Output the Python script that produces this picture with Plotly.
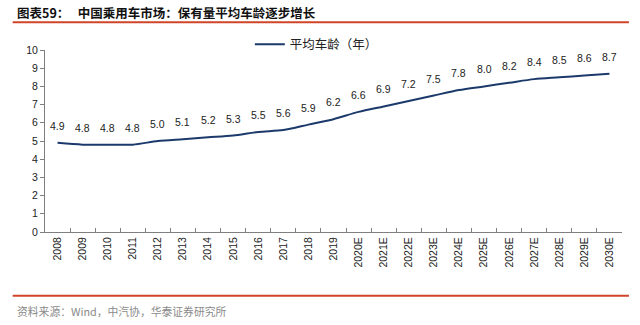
import plotly.graph_objects as go

# Passenger-car fleet: average vehicle age by year (E = estimate)
years = ["2008", "2009", "2010", "2011", "2012", "2013", "2014", "2015", "2016",
         "2017", "2018", "2019", "2020E", "2021E", "2022E", "2023E", "2024E",
         "2025E", "2026E", "2027E", "2028E", "2029E", "2030E"]
avg_age = [4.9, 4.8, 4.8, 4.8, 5.0, 5.1, 5.2, 5.3, 5.5, 5.6, 5.9, 6.2,
           6.6, 6.9, 7.2, 7.5, 7.8, 8.0, 8.2, 8.4, 8.5, 8.6, 8.7]
y_ticks = [0, 1, 2, 3, 4, 5, 6, 7, 8, 9, 10]

series_name = "平均车龄（年）"
title_text = "图表59：   中国乘用车市场：保有量平均车龄逐步增长"
source_text = "资料来源：Wind，中汽协，华泰证券研究所"

LINE_COLOR = "#1b3a6b"
RED = "#d0452a"
NUM_FONT = "Liberation Sans, Arial, sans-serif"
CJK_FONT = "Noto Sans CJK SC, sans-serif"

fig = go.Figure()
fig.add_trace(go.Scatter(
    x=years, y=avg_age, mode="lines", name=series_name,
    line=dict(color=LINE_COLOR, width=2, shape="spline", smoothing=0.8),
    hoverinfo="x+y",
))

# value labels above each point (category axis: position by category index)
for i, v in enumerate(avg_age):
    fig.add_annotation(x=i, y=v, text=f"{v:.1f}", showarrow=False,
                       yshift=17, font=dict(family=NUM_FONT, size=10.5, color="#222"))

# title, red rules and source note
fig.add_annotation(xref="paper", yref="paper", x=-0.052, y=1.205, xanchor="left",
                   yanchor="middle", text=f"<b>{title_text}</b>", showarrow=False,
                   font=dict(family=CJK_FONT, size=12.5, color="#111"))
fig.add_shape(type="line", xref="paper", yref="paper", x0=-0.056, x1=1.012,
              y0=1.153, y1=1.153, line=dict(color=RED, width=2))
fig.add_shape(type="line", xref="paper", yref="paper", x0=-0.056, x1=1.012,
              y0=-0.35, y1=-0.35, line=dict(color=RED, width=2))
fig.add_annotation(xref="paper", yref="paper", x=-0.052, y=-0.432, xanchor="left",
                   yanchor="middle", text=source_text, showarrow=False,
                   font=dict(family=CJK_FONT, size=10.8, color="#8a8a8a"))

fig.update_layout(
    width=640, height=325,
    margin=dict(l=45, r=18, t=50, b=93),
    paper_bgcolor="white", plot_bgcolor="white",
    showlegend=True,
    legend=dict(x=0.355, y=1.03, xanchor="left", yanchor="middle",
                orientation="h", bgcolor="rgba(0,0,0,0)",
                font=dict(family=CJK_FONT, size=12.5, color="#222")),
    xaxis=dict(type="category", categoryorder="array", categoryarray=years,
               range=[-0.5, len(years) - 0.5], tickangle=-90, tickson="boundaries",
               ticks="inside", ticklen=4, tickcolor="#7f7f7f",
               showline=True, linecolor="#7f7f7f", linewidth=1,
               showgrid=False, zeroline=False,
               tickfont=dict(family=NUM_FONT, size=10.5, color="#222")),
    yaxis=dict(range=[0, 10], tickvals=y_ticks, ticks="outside", ticklen=4,
               tickcolor="#7f7f7f", showline=True, linecolor="#7f7f7f",
               linewidth=1, showgrid=False, zeroline=False,
               tickfont=dict(family=NUM_FONT, size=10.5, color="#222")),
)

fig.write_html("out.html")
